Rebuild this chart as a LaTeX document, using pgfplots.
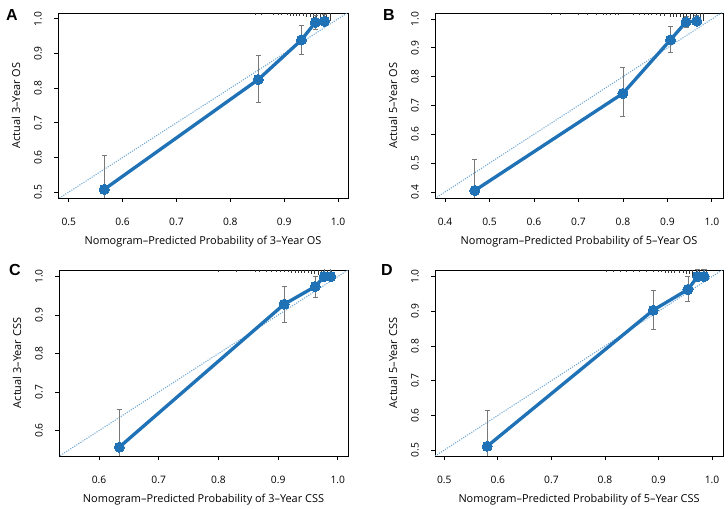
\documentclass[border=0pt]{standalone}
\usepackage{fontspec}
\setmainfont{Open Sans}
\newfontfamily\letfont{Liberation Sans}
\usepackage{pgfplots}
\pgfplotsset{compat=1.18}
\definecolor{calblue}{RGB}{31,114,181}
\definecolor{diagblue}{RGB}{110,165,210}
\definecolor{errgray}{RGB}{120,120,120}
\pgfplotsset{
  calib/.style={
    scale only axis, anchor=south west,
    axis line style={line width=0.7pt},
    tick align=outside, tick pos=left,
    major tick length=3pt,
    every tick/.style={black, line width=0.6pt},
    tick label style={font=\fontsize{7.7}{9}\selectfont},
    /pgf/number format/.cd, fixed, fixed zerofill, precision=1, assume math mode=true, /pgfplots/.cd,
    xticklabel style={anchor=center, yshift=-15pt},
    yticklabel style={xshift=-12pt, rotate=90, anchor=center},
    every axis x label/.style={at={(axis description cs:0.5,0)}, anchor=center, yshift=-33pt, font=\fontsize{8.2}{9}\selectfont},
    every axis y label/.style={at={(axis description cs:0,0.5)}, anchor=center, xshift=-31.5pt, rotate=90, font=\fontsize{8.2}{9}\selectfont},
  },
  rug/.style={only marks, mark=*, mark size=0pt, mark options={draw=none, fill=none}, error bars/.cd, y dir=minus, y explicit, error mark=none, error bar style={draw=black!80, line width=0.5pt}},
  cierr/.style={only marks, mark=*, mark size=0pt, mark options={draw=none, fill=none}, error bars/.cd, y dir=both, y explicit, error bar style={draw=errgray, line width=0.6pt}, error mark options={draw=errgray, mark size=1.9pt, line width=0.6pt, rotate=90}},
  calline/.style={calblue, line width=2.5pt, mark=*, mark size=3.8pt, mark options={solid, fill=calblue, draw=calblue, line width=0pt}},
  diag/.style={diagblue, densely dotted, line width=0.8pt},
}
\begin{document}
\begin{tikzpicture}
\useasboundingbox (0,0) rectangle (546pt,381.75pt);
% ---------------- A ----------------
\begin{axis}[calib, at={(43.5pt,233.25pt)}, width=217.5pt, height=138.75pt,
  xmin=0.48, xmax=1.0186, ymin=0.483, ymax=1.017,
  xtick={0.5,0.6,0.7,0.8,0.9,1.0}, ytick={0.5,0.6,0.7,0.8,0.9,1.0},
  xlabel={Nomogram--Predicted Probability of 3--Year OS}, ylabel={Actual 3--Year OS}]
\addplot[diag] coordinates {(0.4,0.4) (1.1,1.1)};
\addplot[rug] coordinates {
 (0.846,1.017) -= (0,0.006) (0.858,1.017) -= (0,0.006) (0.880,1.017) -= (0,0.006)
 (0.889,1.017) -= (0,0.006) (0.895,1.017) -= (0,0.006) (0.905,1.017) -= (0,0.006)
 (0.911,1.017) -= (0,0.008) (0.917,1.017) -= (0,0.008) (0.923,1.017) -= (0,0.008)
 (0.929,1.017) -= (0,0.010) (0.935,1.017) -= (0,0.010) (0.942,1.017) -= (0,0.012)
 (0.948,1.017) -= (0,0.012) (0.954,1.017) -= (0,0.016) (0.960,1.017) -= (0,0.023)
 (0.967,1.017) -= (0,0.023) (0.973,1.017) -= (0,0.023) (0.979,1.017) -= (0,0.023)
 (0.985,1.017) -= (0,0.023)};
\addplot[cierr] coordinates {
 (0.566,0.508) += (0,0.097) -= (0,0.10)
 (0.852,0.825) += (0,0.070) -= (0,0.067)
 (0.932,0.939) += (0,0.041) -= (0,0.041)
 (0.958,0.990) += (0,0.020) -= (0,0.020)
 (0.975,0.993) += (0,0.020) -= (0,0.010)};
\addplot[calline] coordinates {(0.566,0.508) (0.852,0.825) (0.932,0.939) (0.958,0.990) (0.975,0.993)};
\end{axis}
% ---------------- B ----------------
\begin{axis}[calib, at={(326.25pt,233.25pt)}, width=216pt, height=138.75pt,
  xmin=0.3775, xmax=1.025, ymin=0.379, ymax=1.021,
  xtick={0.4,0.5,0.6,0.7,0.8,0.9,1.0}, ytick={0.4,0.5,0.6,0.7,0.8,0.9,1.0},
  xlabel={Nomogram--Predicted Probability of 5--Year OS}, ylabel={Actual 5--Year OS}]
\addplot[diag] coordinates {(0.3,0.3) (1.1,1.1)};
\addplot[rug] coordinates {
 (0.640,1.021) -= (0,0.007) (0.660,1.021) -= (0,0.007) (0.700,1.021) -= (0,0.007)
 (0.720,1.021) -= (0,0.007) (0.740,1.021) -= (0,0.007)
 (0.756,1.021) -= (0,0.007) (0.763,1.021) -= (0,0.007) (0.771,1.021) -= (0,0.007)
 (0.782,1.021) -= (0,0.007) (0.789,1.021) -= (0,0.007) (0.823,1.021) -= (0,0.007)
 (0.838,1.021) -= (0,0.007) (0.849,1.021) -= (0,0.007) (0.857,1.021) -= (0,0.007)
 (0.864,1.021) -= (0,0.007) (0.876,1.021) -= (0,0.007) (0.883,1.021) -= (0,0.010)
 (0.894,1.021) -= (0,0.010) (0.906,1.021) -= (0,0.014) (0.913,1.021) -= (0,0.014)
 (0.921,1.021) -= (0,0.014) (0.928,1.021) -= (0,0.014) (0.936,1.021) -= (0,0.018)
 (0.943,1.021) -= (0,0.018) (0.951,1.021) -= (0,0.022) (0.958,1.021) -= (0,0.025)
 (0.966,1.021) -= (0,0.028) (0.973,1.021) -= (0,0.028) (0.980,1.021) -= (0,0.028)};
\addplot[cierr] coordinates {
 (0.467,0.405) += (0,0.107) -= (0,0.10)
 (0.800,0.742) += (0,0.090) -= (0,0.080)
 (0.907,0.928) += (0,0.047) -= (0,0.043)
 (0.942,0.990) += (0,0.020) -= (0,0.018)
 (0.966,0.993) += (0,0.020) -= (0,0.010)};
\addplot[calline] coordinates {(0.467,0.405) (0.800,0.742) (0.907,0.928) (0.942,0.990) (0.966,0.993)};
\end{axis}
% ---------------- C ----------------
\begin{axis}[calib, at={(44.25pt,39.75pt)}, width=216.75pt, height=139.5pt,
  xmin=0.533, xmax=1.017, ymin=0.534, ymax=1.017,
  xtick={0.6,0.7,0.8,0.9,1.0}, ytick={0.6,0.7,0.8,0.9,1.0},
  xlabel={Nomogram--Predicted Probability of 3--Year CSS}, ylabel={Actual 3--Year CSS}]
\addplot[diag] coordinates {(0.4,0.4) (1.1,1.1)};
\addplot[rug] coordinates {
 (0.800,1.017) -= (0,0.005) (0.830,1.017) -= (0,0.005)
 (0.861,1.017) -= (0,0.005) (0.869,1.017) -= (0,0.005) (0.880,1.017) -= (0,0.005)
 (0.889,1.017) -= (0,0.005) (0.897,1.017) -= (0,0.005) (0.903,1.017) -= (0,0.005)
 (0.911,1.017) -= (0,0.005) (0.917,1.017) -= (0,0.005) (0.922,1.017) -= (0,0.007)
 (0.928,1.017) -= (0,0.007) (0.933,1.017) -= (0,0.007) (0.939,1.017) -= (0,0.007)
 (0.944,1.017) -= (0,0.008) (0.950,1.017) -= (0,0.008) (0.956,1.017) -= (0,0.010)
 (0.961,1.017) -= (0,0.010) (0.967,1.017) -= (0,0.014) (0.972,1.017) -= (0,0.018)
 (0.978,1.017) -= (0,0.021) (0.983,1.017) -= (0,0.021) (0.989,1.017) -= (0,0.021)};
\addplot[cierr] coordinates {
 (0.634,0.557) += (0,0.099) -= (0,0.10)
 (0.910,0.928) += (0,0.047) -= (0,0.046)
 (0.962,0.974) += (0,0.026) -= (0,0.027)
 (0.977,1.000) += (0,0.020) -= (0,0.005)
 (0.988,1.000) += (0,0.020) -= (0,0.005)};
\addplot[calline] coordinates {(0.634,0.557) (0.910,0.928) (0.962,0.974) (0.977,1.000) (0.988,1.000)};
\end{axis}
% ---------------- D ----------------
\begin{axis}[calib, at={(326.25pt,39.75pt)}, width=216pt, height=139.5pt,
  xmin=0.4826, xmax=1.0205, ymin=0.483, ymax=1.019,
  xtick={0.5,0.6,0.7,0.8,0.9,1.0}, ytick={0.5,0.6,0.7,0.8,0.9,1.0},
  xlabel={Nomogram--Predicted Probability of 5--Year CSS}, ylabel={Actual 5--Year CSS}]
\addplot[diag] coordinates {(0.4,0.4) (1.1,1.1)};
\addplot[rug] coordinates {
 (0.803,1.019) -= (0,0.006) (0.815,1.019) -= (0,0.006) (0.828,1.019) -= (0,0.006)
 (0.840,1.019) -= (0,0.006) (0.853,1.019) -= (0,0.006) (0.865,1.019) -= (0,0.006)
 (0.877,1.019) -= (0,0.006) (0.890,1.019) -= (0,0.006) (0.899,1.019) -= (0,0.006)
 (0.905,1.019) -= (0,0.006) (0.912,1.019) -= (0,0.008) (0.918,1.019) -= (0,0.008)
 (0.924,1.019) -= (0,0.008) (0.930,1.019) -= (0,0.008) (0.939,1.019) -= (0,0.010)
 (0.946,1.019) -= (0,0.010) (0.952,1.019) -= (0,0.012) (0.958,1.019) -= (0,0.012)
 (0.964,1.019) -= (0,0.016) (0.971,1.019) -= (0,0.023) (0.977,1.019) -= (0,0.023)
 (0.983,1.019) -= (0,0.023) (0.989,1.019) -= (0,0.023)};
\addplot[cierr] coordinates {
 (0.580,0.511) += (0,0.103) -= (0,0.10)
 (0.890,0.903) += (0,0.057) -= (0,0.055)
 (0.955,0.963) += (0,0.037) -= (0,0.035)
 (0.973,1.000) += (0,0.020) -= (0,0.005)
 (0.985,1.000) += (0,0.020) -= (0,0.005)};
\addplot[calline] coordinates {(0.580,0.511) (0.890,0.903) (0.955,0.963) (0.973,1.000) (0.985,1.000)};
\end{axis}
% panel letters
\node[font=\letfont\bfseries\fontsize{12}{14}\selectfont] at (9pt,370.5pt) {A};
\node[font=\letfont\bfseries\fontsize{12}{14}\selectfont] at (291.75pt,370.5pt) {B};
\node[font=\letfont\bfseries\fontsize{12}{14}\selectfont] at (11.25pt,179.25pt) {C};
\node[font=\letfont\bfseries\fontsize{12}{14}\selectfont] at (290.25pt,179.25pt) {D};
\end{tikzpicture}
\end{document}
